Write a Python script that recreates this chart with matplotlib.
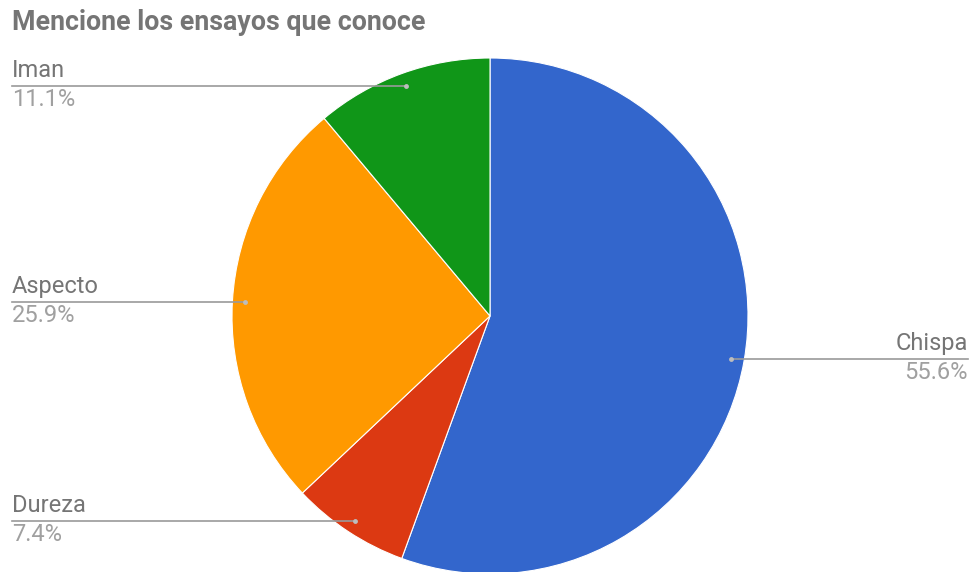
import matplotlib
matplotlib.use("Agg")
import matplotlib.pyplot as plt
from matplotlib.lines import Line2D
import numpy as np

plt.rcParams['font.family'] = ['Roboto', 'DejaVu Sans']

labels = ["Chispa", "Dureza", "Aspecto", "Iman"]
values = [15, 2, 7, 3]
colors = ["#3366cc", "#dc3912", "#ff9900", "#109618"]

W, H = 973, 572
fig = plt.figure(figsize=(W / 100, H / 100), dpi=100)

# pie placed in pixel coords: centre (490, 316), radius 258
cx, cy, r = 490, 316, 258
ax = fig.add_axes([(cx - r) / W, (H - cy - r) / H, 2 * r / W, 2 * r / H])
wedges, _ = ax.pie(values, colors=colors, startangle=90, counterclock=False,
                   radius=1, wedgeprops=dict(linewidth=0.8, edgecolor="white"))
ax.set_xlim(-1, 1)
ax.set_ylim(-1, 1)
ax.axis("off")

fig.text(12 / W, 1 - 23 / H, "Mencione los ensayos que conoce", fontsize=19.3,
         fontweight="bold", color="#757575", ha="left", va="center")

total = sum(values)
name_col = "#757575"
pct_col = "#a0a0a0"
for w, lab, v in zip(wedges, labels, values):
    mid = np.deg2rad((w.theta1 + w.theta2) / 2)
    dx, dy = 0.95 * np.cos(mid), 0.95 * np.sin(mid)
    px = cx + dx * r
    py = cy - dy * r
    fy = 1 - py / H
    if dx > 0:
        x_end = 968
        ha = "right"
    else:
        x_end = 12
        ha = "left"
    fig.add_artist(Line2D([px / W, x_end / W], [fy, fy], color="#9a9a9a", lw=1.2))
    fig.add_artist(Line2D([px / W], [fy], marker="o", ms=3.5, color="#bdbdbd", mec="none"))
    fig.text(x_end / W, fy + 4 / H, lab, fontsize=17, color=name_col, ha=ha, va="bottom")
    fig.text(x_end / W, fy - 2 / H, "{:.1f}%".format(100 * v / total), fontsize=17,
             color=pct_col, ha=ha, va="top")

plt.savefig("out.png", dpi=100)
